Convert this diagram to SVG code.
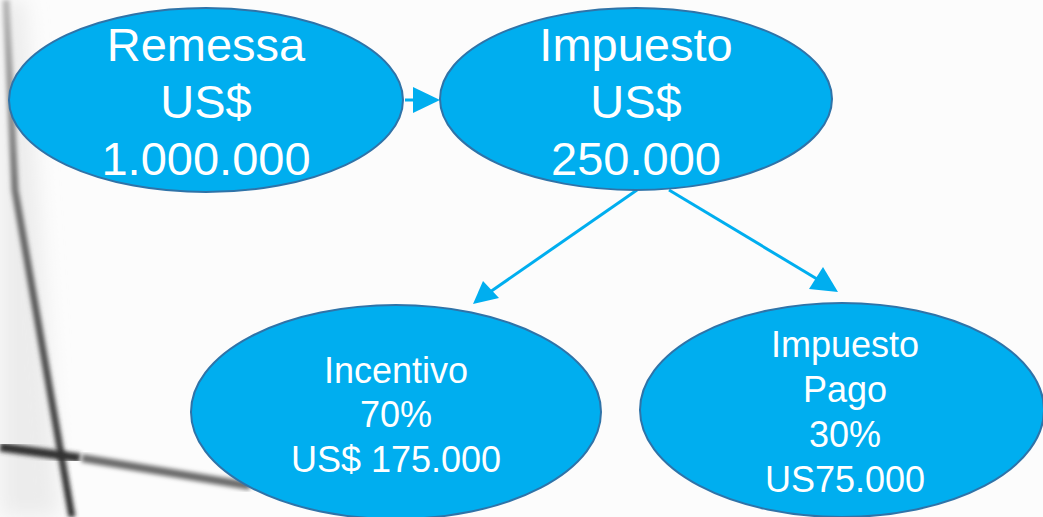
<svg xmlns="http://www.w3.org/2000/svg" width="1043" height="517" viewBox="0 0 1043 517">
<defs>
<style>
.node{fill:#00AEEF;stroke:#2F73A8;stroke-width:2}
.big{font-family:"Liberation Sans",Arial,sans-serif;font-size:47px;fill:#fff;text-anchor:middle}
.small{font-family:"Liberation Sans",Arial,sans-serif;font-size:36px;fill:#fff;text-anchor:middle}
.edge{stroke:#00AEEF;stroke-width:3;fill:none}
</style>
<linearGradient id="vg" x1="0" y1="0" x2="0" y2="1">
<stop offset="0" stop-color="#b8b8b8"/>
<stop offset="0.4" stop-color="#6a6a6a"/>
<stop offset="1" stop-color="#2e2e2e"/>
</linearGradient>
<filter id="blur" x="-50%" y="-20%" width="200%" height="140%"><feGaussianBlur stdDeviation="2.2"/></filter>
<filter id="blur2" x="-20%" y="-20%" width="140%" height="140%"><feGaussianBlur stdDeviation="10"/></filter>
</defs>
<g id="background">
<rect width="1043" height="517" fill="#fcfcfc"/>
<path d="M0,0 L25,0 L60,517 L0,517 Z" fill="#ececec" filter="url(#blur2)"/>
<path d="M6,0 L15,190 L72,517" stroke="url(#vg)" stroke-width="7" fill="none" filter="url(#blur)"/>
<path d="M0,447 L80,458" stroke="#333" stroke-width="9" fill="none" filter="url(#blur)"/>
<path d="M82,458 L250,486" stroke="#6a6a6a" stroke-width="8" fill="none" filter="url(#blur)"/>
</g>
<g id="connectors">
<line class="edge" x1="405" y1="100" x2="420" y2="100" stroke-width="2.5"/>
<path d="M413,87 L440,100 L413,113 Z" fill="#00AEEF"/>
<line class="edge" x1="637" y1="190" x2="490" y2="292"/>
<path d="M473,304 L483,281 L499,298 Z" fill="#00AEEF"/>
<line class="edge" x1="669" y1="190" x2="822" y2="282"/>
<path d="M838,292 L809,289 L823,267 Z" fill="#00AEEF"/>
</g>
<g id="node-remessa">
<ellipse class="node" cx="206" cy="100" rx="197" ry="92"/>
<text class="big" x="206" y="61">Remessa</text>
<text class="big" x="206" y="118">US$</text>
<text class="big" x="206" y="175">1.000.000</text>
</g>
<g id="node-impuesto">
<ellipse class="node" cx="636" cy="99" rx="196" ry="91"/>
<text class="big" x="636" y="61">Impuesto</text>
<text class="big" x="636" y="118">US$</text>
<text class="big" x="636" y="175">250.000</text>
</g>
<g id="node-incentivo">
<ellipse class="node" cx="396" cy="412" rx="205" ry="107"/>
<text class="small" x="396" y="383">Incentivo</text>
<text class="small" x="396" y="427">70%</text>
<text class="small" x="396" y="472">US$ 175.000</text>
</g>
<g id="node-pago">
<ellipse class="node" cx="842" cy="410" rx="202" ry="107"/>
<text class="small" x="845" y="357">Impuesto</text>
<text class="small" x="845" y="402">Pago</text>
<text class="small" x="845" y="447">30%</text>
<text class="small" x="845" y="492">US75.000</text>
</g>
</svg>
